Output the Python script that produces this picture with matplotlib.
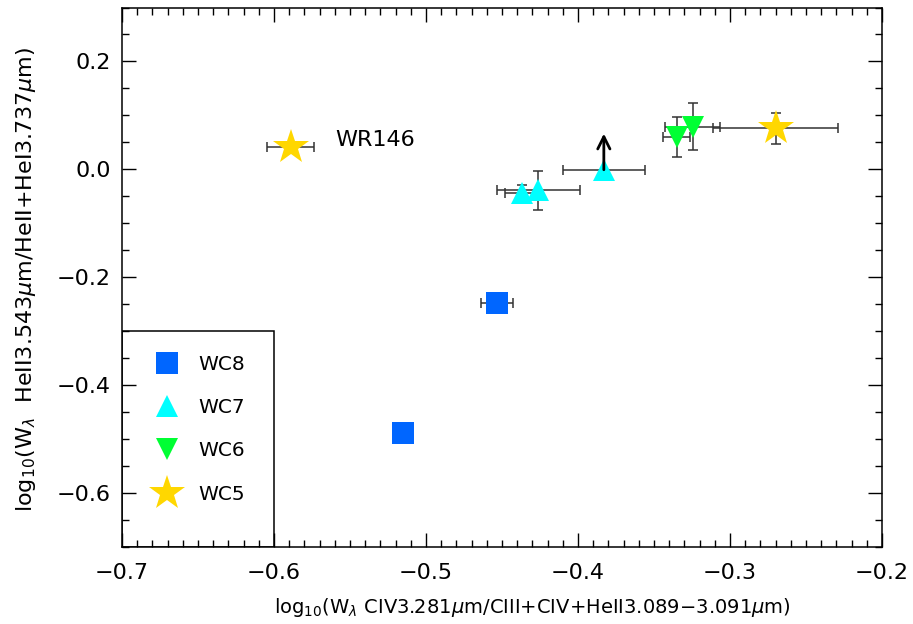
import numpy as np
import matplotlib
matplotlib.use("Agg")
import matplotlib.pyplot as plt
from matplotlib.patches import Rectangle
from matplotlib.ticker import MultipleLocator

plt.rcParams['font.family'] = ['DejaVu Sans']
plt.rcParams['mathtext.fontset'] = 'dejavusans'

# ==============================
# Data
# ==============================
# WC8
wc8_x = [-0.515, -0.453]
wc8_y = [-0.490, -0.248]
wc8_xerr = [0.0, 0.0105]
wc8_yerr = [0.0, 0.0]

# WC7 (last one is a lower limit)
wc7_x = [-0.437, -0.426, -0.383]
wc7_y = [-0.045, -0.039, -0.001]
wc7_xerr = [0.011, 0.027, 0.027]
wc7_yerr = [0.015, 0.036, 0.0]
wc7_limit_len = 0.067

# WC6
wc6_x = [-0.335, -0.3245]
wc6_y = [0.059, 0.079]
wc6_xerr = [0.009, 0.018]
wc6_yerr = [0.037, 0.043]

# WC5 (first one is WR146)
wc5_x = [-0.589, -0.270]
wc5_y = [0.041, 0.076]
wc5_xerr = [0.0156, 0.041]
wc5_yerr = [0.0, 0.029]

series = [
    ("WC8", wc8_x, wc8_y, wc8_xerr, wc8_yerr, "s", "#0066FF", 16.5),
    ("WC7", wc7_x, wc7_y, wc7_xerr, wc7_yerr, "^", "#00FFFF", 16),
    ("WC6", wc6_x, wc6_y, wc6_xerr, wc6_yerr, "v", "#00FF33", 16),
    ("WC5", wc5_x, wc5_y, wc5_xerr, wc5_yerr, "*", "#FFD700", 26.5),
]

fig = plt.figure(figsize=(9.13, 6.24), dpi=100)
ax = fig.add_axes([122 / 913, 1 - 546.5 / 624, 760 / 913, 539 / 624])

handles = []
for name, x, y, xe, ye, mk, col, ms in series:
    ax.errorbar(x, y, xerr=xe, yerr=ye, fmt="none", ecolor="#333333",
                elinewidth=1.1, capsize=3.6, capthick=1.1, zorder=2)
    h, = ax.plot(x, y, linestyle="none", marker=mk, color=col,
                 markersize=ms, markeredgewidth=0, zorder=3, label=name)
    handles.append(h)

# lower limit arrow on last WC7 point
ax.annotate("", xy=(wc7_x[-1], wc7_y[-1] + wc7_limit_len),
            xytext=(wc7_x[-1], wc7_y[-1]),
            arrowprops=dict(arrowstyle="->", lw=2, color="k",
                            mutation_scale=22, shrinkA=0, shrinkB=0),
            zorder=4)

ax.text(wc5_x[0] + 0.029, wc5_y[0] + 0.013, "WR146", fontsize=16,
        va="center", ha="left")

ax.set_xlim(-0.7, -0.2)
ax.set_ylim(-0.7, 0.3)
ax.xaxis.set_major_locator(MultipleLocator(0.1))
ax.xaxis.set_minor_locator(MultipleLocator(0.01))
ax.yaxis.set_major_locator(MultipleLocator(0.2))
ax.yaxis.set_minor_locator(MultipleLocator(0.05))
ax.tick_params(which="both", direction="in", top=True, right=True,
               width=1, labelsize=16)
ax.tick_params(which="major", length=10)
ax.tick_params(which="minor", length=5)
ax.tick_params(axis="x", pad=12)
ax.tick_params(axis="y", pad=8)
for s in ax.spines.values():
    s.set_linewidth(1.1)

ax.set_xlabel(r"log$_{10}$(W$_\lambda$ CIV3.281$\mu$m/CIII+CIV+HeII3.089$-$3.091$\mu$m)",
              fontsize=14)
ax.set_ylabel(r"log$_{10}$(W$_\lambda$  HeII3.543$\mu$m/HeII+HeI3.737$\mu$m)",
              fontsize=16)
ax.xaxis.set_label_coords(0.54, -0.092)
ax.yaxis.set_label_coords(-0.11, 0.495)

# legend box in the lower-left corner
ax.add_patch(Rectangle((-0.7, -0.7), 0.1, 0.4, fill=False, edgecolor="k",
                       lw=1.1, zorder=5))
ax.legend(handles=handles, loc="upper left", bbox_to_anchor=(0.029, 0.370),
          frameon=False, fontsize=14.5, handlelength=1.5, handletextpad=0.8,
          labelspacing=1.2, markerscale=1.0, borderaxespad=0)

fig.savefig("out.png", dpi=100)
